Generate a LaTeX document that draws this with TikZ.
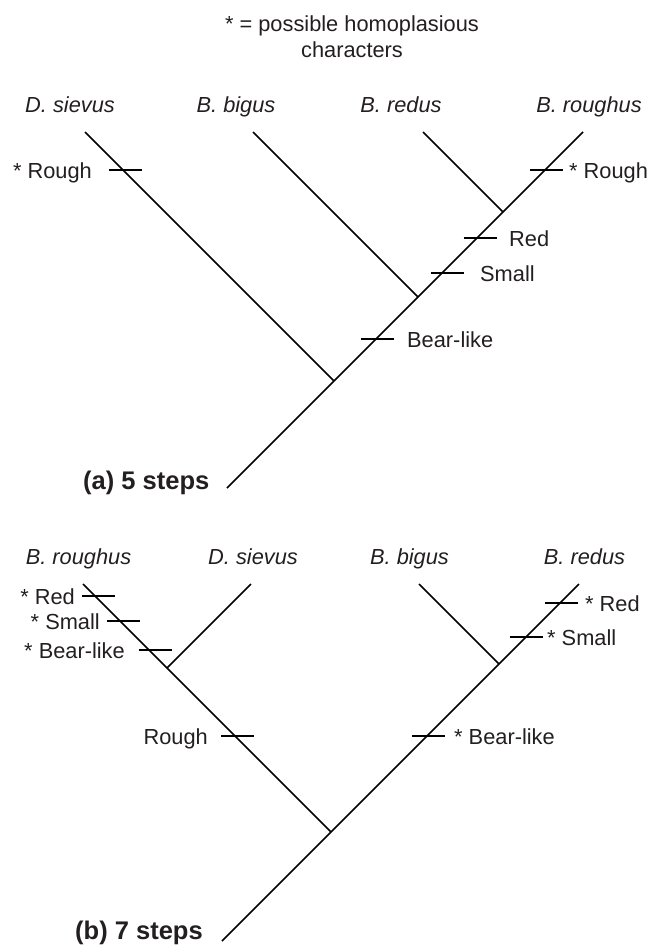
\documentclass[tikz,border=0pt]{standalone}
\usepackage{fontspec}
\setmainfont{Liberation Sans}
\definecolor{ink}{RGB}{35,31,32}
\begin{document}
\begin{tikzpicture}[x=1bp,y=-1bp,
  branch/.style={line width=1.6bp,black},
  charmark/.style={line width=1.5bp,black},
  taxon/.style={font=\fontsize{21.8bp}{26bp}\selectfont\itshape,text=ink,anchor=base,inner sep=0pt},
  trait/.style={font=\fontsize{21.8bp}{26bp}\selectfont,text=ink,inner sep=0pt},
  note/.style={font=\fontsize{21.8bp}{26bp}\selectfont,text=ink,anchor=base,inner sep=0pt},
  caption/.style={font=\fontsize{25.5bp}{30bp}\selectfont\bfseries,text=ink,anchor=base west,inner sep=0pt}]
\useasboundingbox (0,0) rectangle (657,946);

% legend
\node[note] (legA) at (352,31) {* = possible homoplasious};
\node[note] (legB) at (352,57) {characters};

% ---------- tree (a) ----------
\node[taxon] (tA1) at (70,112) {D. sievus};
\node[taxon] (tA2) at (236,112) {B. bigus};
\node[taxon] (tA3) at (401,112) {B. redus};
\node[taxon] (tA4) at (589,112) {B. roughus};

\coordinate (a1) at (85,132);
\coordinate (a2) at (253,132);
\coordinate (a3) at (423,132);
\coordinate (a4) at (583,132);
\coordinate (aRR) at (503,212);
\coordinate (aBR) at (418,297);
\coordinate (aRoot) at (334,381);
\coordinate (aBase) at (227,488);

\draw[branch] (a1) -- (aRoot);
\draw[branch] (a2) -- (aBR);
\draw[branch] (a3) -- (aRR);
\draw[branch] (a4) -- (aBase);

\coordinate (ma1) at (125,170);
\coordinate (ma2) at (546.5,170);
\coordinate (ma3) at (480,238);
\coordinate (ma4) at (447,273);
\coordinate (ma5) at (377,339);
\foreach \m in {ma1,ma2,ma3,ma4,ma5}
  \draw[charmark] (\m) ++(-16.5,0) -- ++(33,0);

\node[trait,anchor=base east] (la1) at (92,178) {* Rough};
\node[trait,anchor=base west] (la2) at (569,178) {* Rough};
\node[trait,anchor=base west] (la3) at (509,246) {Red};
\node[trait,anchor=base west] (la4) at (480,281) {Small};
\node[trait,anchor=base west] (la5) at (407,347) {Bear-like};

\node[caption] (capA) at (83,489) {(a) 5 steps};

% ---------- tree (b) ----------
\node[taxon] (tB1) at (78.5,564) {B. roughus};
\node[taxon] (tB2) at (253,564) {D. sievus};
\node[taxon] (tB3) at (409.5,564) {B. bigus};
\node[taxon] (tB4) at (584.5,564) {B. redus};

\coordinate (b1) at (83,584);
\coordinate (b2) at (251,584);
\coordinate (b3) at (419,584);
\coordinate (b4) at (579,584);
\coordinate (bRS) at (167,668);
\coordinate (bBR) at (499,664);
\coordinate (bRoot) at (331,832);
\coordinate (bBase) at (222,941);

\draw[branch] (b1) -- (bRoot);
\draw[branch] (b2) -- (bRS);
\draw[branch] (b3) -- (bBR);
\draw[branch] (b4) -- (bBase);

\coordinate (mb1) at (98,596);
\coordinate (mb2) at (123.5,621);
\coordinate (mb3) at (155,650);
\coordinate (mb4) at (237.5,736);
\coordinate (mb5) at (561.5,603);
\coordinate (mb6) at (526.5,637);
\coordinate (mb7) at (428.5,736);
\foreach \m in {mb1,mb2,mb3,mb4,mb5,mb6,mb7}
  \draw[charmark] (\m) ++(-16.5,0) -- ++(33,0);

\node[trait,anchor=base east] (lb1) at (75,604) {* Red};
\node[trait,anchor=base east] (lb2) at (100,629) {* Small};
\node[trait,anchor=base east] (lb3) at (125,658) {* Bear-like};
\node[trait,anchor=base east] (lb4) at (208,744) {Rough};
\node[trait,anchor=base west] (lb5) at (585,611) {* Red};
\node[trait,anchor=base west] (lb6) at (547,645) {* Small};
\node[trait,anchor=base west] (lb7) at (454,744) {* Bear-like};

\node[caption] (capB) at (75,939) {(b) 7 steps};
\end{tikzpicture}
\end{document}
